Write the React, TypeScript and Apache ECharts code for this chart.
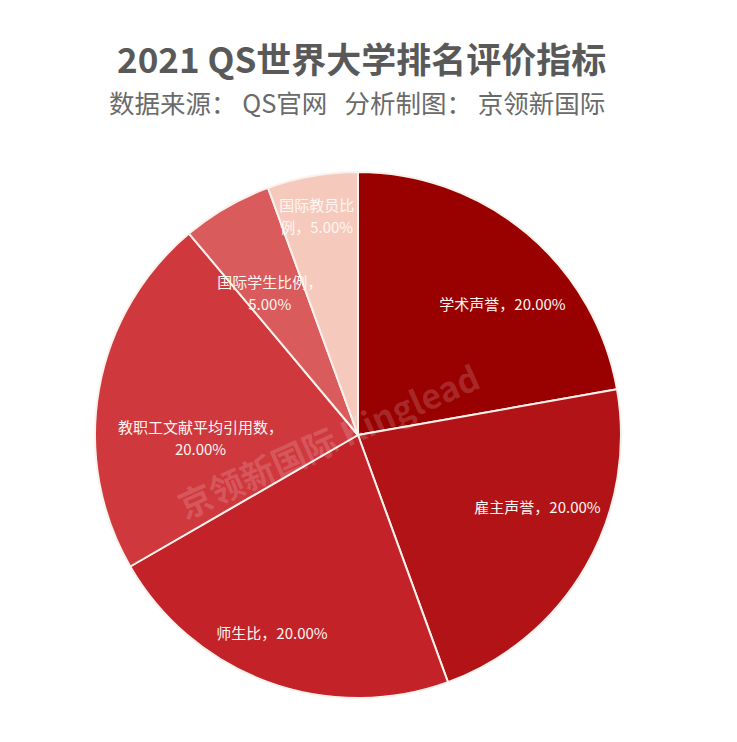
import React, { useEffect, useRef } from "react";
import * as echarts from "echarts";

const TITLE = "2021 QS世界大学排名评价指标";
const SUBTITLE = "数据来源： QS官网   分析制图： 京领新国际";
const WATERMARK = "京领新国际 Kinglead";

const categories = ["学术声誉", "雇主声誉", "师生比", "教职工文献平均引用数", "国际学生比例", "国际教员比例"];
const values = [20, 20, 20, 20, 5, 5];

const COLORS = ["#990000", "#B21317", "#C22228", "#CF383D", "#D95B5C", "#F5CABD"];
// label nudges from the library's inside position [dx, dy]
const LABEL_NUDGE: [number, number][] = [
  [58, -28],
  [63, 4],
  [-40, 71],
  [-25, 26],
  [-21, -26],
  [-18, -87],
];
// character index at which a label wraps (0 = no wrap)
const LABEL_WRAP = [0, 0, 0, 11, 7, 5];

export default function App() {
  const ref = useRef<HTMLDivElement>(null);
  useEffect(() => {
    if (!ref.current) return;
    const chart = echarts.init(ref.current, undefined, { renderer: "svg" });
    const font = '"Noto Sans CJK SC", "Noto Sans", sans-serif';
    chart.setOption({
      animation: false,
      backgroundColor: "#ffffff",
      title: [
        {
          text: TITLE,
          left: 112,
          top: 35,
          textStyle: { fontFamily: font, fontSize: 35, fontWeight: "bold", color: "#595959" },
        },
        {
          text: SUBTITLE,
          left: 104,
          top: 84,
          textStyle: { fontFamily: font, fontSize: 25.5, fontWeight: "normal", color: "#6a6a6a" },
        },
      ],
      series: [
        {
          type: "pie",
          center: [358, 435],
          radius: [0, 263],
          startAngle: 90,
          clockwise: true,
          silent: true,
          itemStyle: { borderColor: "#FBF1EC", borderWidth: 2 },
          label: {
            show: true,
            position: "inside",
            color: "#FFF6F2",
            fontFamily: font,
            fontSize: 15,
            lineHeight: 22,
            align: "center",
            formatter: (p: any) => {
              const t = `${p.name}，${Number(p.value).toFixed(2)}%`;
              const w = LABEL_WRAP[p.dataIndex];
              return w ? t.slice(0, w) + "\n" + t.slice(w) : t;
            },
          },
          labelLine: { show: false },
          labelLayout: (p: any) => {
            const n = LABEL_NUDGE[p.dataIndex] || [0, 0];
            return { dx: n[0], dy: n[1] };
          },
          data: categories.map((name, i) => ({
            name,
            value: values[i],
            itemStyle: { color: COLORS[i] },
          })),
        },
      ],
      graphic: [
        {
          type: "text",
          x: 328,
          y: 440,
          rotation: (24 * Math.PI) / 180,
          z: 100,
          silent: true,
          style: {
            text: WATERMARK,
            fontFamily: '"Noto Sans CJK SC", "Liberation Sans", sans-serif',
            fontSize: 34,
            fontWeight: "bold",
            fill: "rgba(255,255,255,0.16)",
            textAlign: "center",
            textVerticalAlign: "middle",
          },
        },
      ],
    });
    return () => chart.dispose();
  }, []);
  return (
    <div
      ref={ref}
      style={{ position: "fixed", left: 0, top: 0, width: 737, height: 742, background: "#fff" }}
    />
  );
}
